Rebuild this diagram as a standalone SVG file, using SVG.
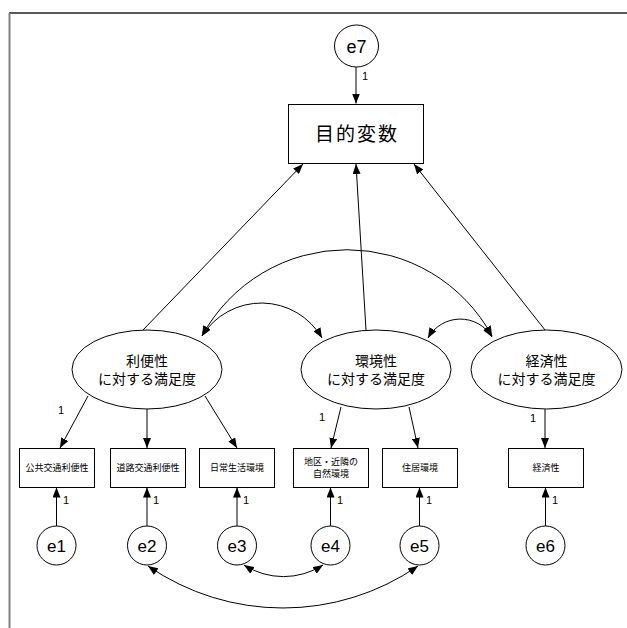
<svg xmlns="http://www.w3.org/2000/svg" width="627" height="628" viewBox="0 0 627 628">
<style>
.nd{fill:#fff;stroke:#000;stroke-width:1}
.ln{fill:none;stroke:#000;stroke-width:1}
.jp{font-family:"Liberation Sans","Noto Sans CJK JP",sans-serif;fill:#000;text-anchor:middle}
.lt{font-family:"Liberation Sans",Arial,sans-serif;fill:#000;text-anchor:middle}
.lbl{font-family:"Liberation Sans",Arial,sans-serif;fill:#000;font-size:11px}
</style>
<defs>
<marker id="ah" viewBox="0 0 10 8" refX="10" refY="4" markerWidth="10" markerHeight="8" orient="auto-start-reverse" markerUnits="userSpaceOnUse"><path d="M0,0 L10,4 L0,8 z" fill="#000"/></marker>
</defs>
<rect width="627" height="628" fill="#fff"/>
<line x1="9" y1="13" x2="627" y2="13" stroke="#222" stroke-width="1.5"/>
<line x1="9.5" y1="13" x2="9.5" y2="628" stroke="#808080" stroke-width="2"/>

<g id="connectors">
<line class="ln" x1="356" y1="67" x2="356" y2="103.5" marker-end="url(#ah)"/>
<line class="ln" x1="143" y1="330" x2="303" y2="164" marker-end="url(#ah)"/>
<line class="ln" x1="366" y1="330" x2="356" y2="164" marker-end="url(#ah)"/>
<line class="ln" x1="545" y1="330" x2="414" y2="164" marker-end="url(#ah)"/>
<line class="ln" x1="88" y1="396" x2="60" y2="448" marker-end="url(#ah)"/>
<line class="ln" x1="147" y1="409" x2="147" y2="448" marker-end="url(#ah)"/>
<line class="ln" x1="205" y1="396" x2="237" y2="448" marker-end="url(#ah)"/>
<line class="ln" x1="341" y1="407" x2="331" y2="448" marker-end="url(#ah)"/>
<line class="ln" x1="409" y1="407" x2="418" y2="448" marker-end="url(#ah)"/>
<line class="ln" x1="545" y1="409" x2="545" y2="448" marker-end="url(#ah)"/>
<line class="ln" x1="56.5" y1="526" x2="56.5" y2="487.5" marker-end="url(#ah)"/>
<line class="ln" x1="147" y1="526" x2="147" y2="487.5" marker-end="url(#ah)"/>
<line class="ln" x1="237" y1="526" x2="237" y2="487.5" marker-end="url(#ah)"/>
<line class="ln" x1="330.5" y1="526" x2="330.5" y2="487.5" marker-end="url(#ah)"/>
<line class="ln" x1="419.5" y1="526" x2="419.5" y2="487.5" marker-end="url(#ah)"/>
<line class="ln" x1="545.5" y1="526" x2="545.5" y2="487.5" marker-end="url(#ah)"/>
<path class="ln" d="M202,336 A165,165 0 0 1 492,336" marker-start="url(#ah)" marker-end="url(#ah)"/>
<path class="ln" d="M202,336 A70,70 0 0 1 322,338" marker-start="url(#ah)" marker-end="url(#ah)"/>
<path class="ln" d="M428,338 A37,37 0 0 1 492,337" marker-start="url(#ah)" marker-end="url(#ah)"/>
<path class="ln" d="M244,565 A73,73 0 0 0 323,565" marker-start="url(#ah)" marker-end="url(#ah)"/>
<path class="ln" d="M148,566 A238,238 0 0 0 418,566" marker-start="url(#ah)" marker-end="url(#ah)"/>
<text class="lbl" x="362" y="80">1</text>
<text class="lbl" x="58" y="414" font-size="12">1</text>
<text class="lbl" x="319" y="421" font-size="12">1</text>
<text class="lbl" x="530" y="422" font-size="12">1</text>
<text class="lbl" x="63" y="504">1</text>
<text class="lbl" x="153" y="504">1</text>
<text class="lbl" x="243" y="504">1</text>
<text class="lbl" x="337" y="504">1</text>
<text class="lbl" x="426" y="504">1</text>
<text class="lbl" x="552" y="504">1</text>
</g>

<g id="e7"><ellipse class="nd" cx="356.5" cy="46" rx="22" ry="21"/><text class="lt" x="356.5" y="52.5" font-size="18">e7</text></g>
<g id="target"><rect class="nd" x="288.5" y="104.5" width="135" height="59"/><text class="jp" x="357" y="141" font-size="19" letter-spacing="2">目的変数</text></g>

<g id="latent1"><ellipse class="nd" cx="147" cy="369.5" rx="75" ry="39.5"/><text class="jp" x="147" y="366" font-size="14">利便性</text><text class="jp" x="147" y="384" font-size="14">に対する満足度</text></g>
<g id="latent2"><ellipse class="nd" cx="376" cy="369.5" rx="75" ry="39.5"/><text class="jp" x="376" y="366" font-size="14">環境性</text><text class="jp" x="376" y="384" font-size="14">に対する満足度</text></g>
<g id="latent3"><ellipse class="nd" cx="546.5" cy="369.5" rx="75.5" ry="39.5"/><text class="jp" x="546.5" y="366" font-size="14">経済性</text><text class="jp" x="546.5" y="384" font-size="14">に対する満足度</text></g>

<g id="x1"><rect class="nd" x="19.5" y="448.5" width="75" height="39"/><text class="jp" x="57" y="471" font-size="9">公共交通利便性</text></g>
<g id="x2"><rect class="nd" x="110.5" y="448.5" width="75" height="39"/><text class="jp" x="148" y="471" font-size="9">道路交通利便性</text></g>
<g id="x3"><rect class="nd" x="199.5" y="448.5" width="75" height="39"/><text class="jp" x="237" y="471" font-size="9">日常生活環境</text></g>
<g id="x4"><rect class="nd" x="293.5" y="448.5" width="75" height="39"/><text class="jp" x="331" y="465" font-size="9">地区・近隣の</text><text class="jp" x="331" y="477" font-size="9">自然環境</text></g>
<g id="x5"><rect class="nd" x="382.5" y="448.5" width="75" height="39"/><text class="jp" x="420" y="471" font-size="9">住居環境</text></g>
<g id="x6"><rect class="nd" x="508.5" y="448.5" width="75" height="39"/><text class="jp" x="546" y="471" font-size="9">経済性</text></g>

<g id="e1"><circle class="nd" cx="56.5" cy="545.5" r="19.5"/><text class="lt" x="56.5" y="551.5" font-size="17">e1</text></g>
<g id="e2"><circle class="nd" cx="147" cy="545.5" r="19.5"/><text class="lt" x="147" y="551.5" font-size="17">e2</text></g>
<g id="e3"><circle class="nd" cx="237" cy="545.5" r="19.5"/><text class="lt" x="237" y="551.5" font-size="17">e3</text></g>
<g id="e4"><circle class="nd" cx="330.5" cy="545.5" r="19.5"/><text class="lt" x="330.5" y="551.5" font-size="17">e4</text></g>
<g id="e5"><circle class="nd" cx="419.5" cy="545.5" r="19.5"/><text class="lt" x="419.5" y="551.5" font-size="17">e5</text></g>
<g id="e6"><circle class="nd" cx="545.5" cy="545.5" r="19.5"/><text class="lt" x="545.5" y="551.5" font-size="17">e6</text></g>
</svg>
